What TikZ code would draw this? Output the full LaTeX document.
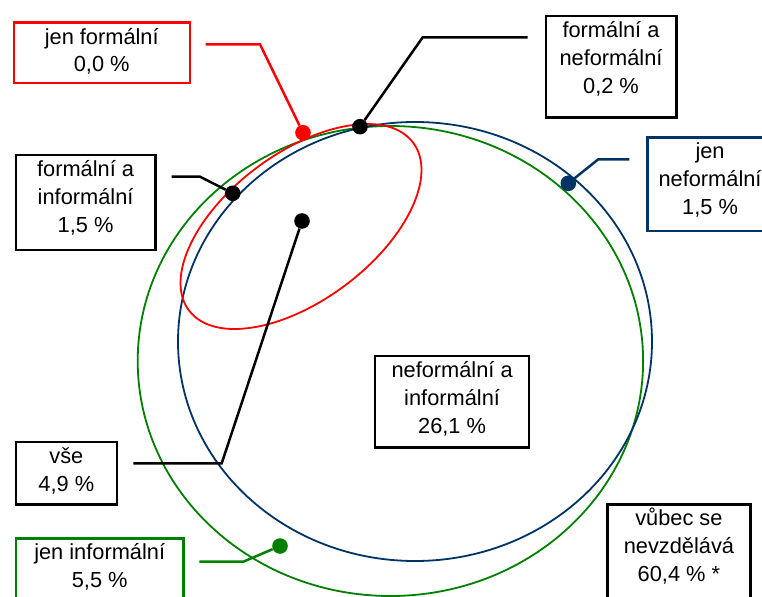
\documentclass[tikz,border=0pt]{standalone}
\usepackage{fontspec}
\setmainfont{Liberation Sans}
\definecolor{vred}{RGB}{255,0,0}
\definecolor{vblue}{RGB}{0,51,102}
\definecolor{vgreen}{RGB}{0,128,0}
\newcommand{\boxtxt}[3]{\begin{minipage}[t][#2][t]{#1}\centering\fontsize{21.8bp}{27.9bp}\selectfont\rule{0pt}{21.3bp}#3\end{minipage}}
\tikzset{
  lbox/.style={draw, line width=2.5bp, inner sep=0pt, anchor=north west, fill=white},
  ell/.style={line width=1.8bp},
  lead/.style={line width=2.5bp},
  vdot/.style={circle, fill, inner sep=0pt, minimum size=15.6bp}
}
\begin{document}
\begin{tikzpicture}[x=1bp, y=-1bp]
\useasboundingbox (0,0) rectangle (762,597);
\clip (0,0) rectangle (762,597);
\fill[white] (0,0) rectangle (762,597);

% sets
\draw[ell, vgreen] (390.4,361) ellipse [x radius=252.7, y radius=235];
\draw[ell, vblue] (415,341.5) ellipse [x radius=237, y radius=219.5];
\draw[ell, vred, rotate around={36.8:(301,226.5)}] (301,226.5) ellipse [x radius=140, y radius=73.6];

% boxes
\node[lbox, draw=vred] (bJF) at (12.5,21.5) {\boxtxt{176bp}{60.5bp}{jen formální\\0,0 \%}};
\node[lbox] (bFN) at (544.5,14.7) {\boxtxt{130.5bp}{101.5bp}{formální a\\neformální\\0,2 \%}};
\node[lbox, draw=vblue] (bJN) at (646.3,136.2) {\boxtxt{125bp}{93.3bp}{jen\\neformální\\1,5 \%}};
\node[lbox] (bFI) at (14.7,154) {\boxtxt{139.3bp}{94.7bp}{formální a\\informální\\1,5 \%}};
\node[lbox] (bNI) at (373.9,354.7) {\boxtxt{153.9bp}{91.6bp}{neformální a\\informální\\26,1 \%}};
\node[lbox] (bV) at (14.7,440.7) {\boxtxt{100.8bp}{62.6bp}{vše\\4,9 \%}};
\node[lbox, draw=vgreen] (bJI) at (14.7,537.3) {\boxtxt{167.5bp}{70bp}{jen informální\\5,5 \%}};
\node[lbox] (bN) at (606.3,503) {\boxtxt{142.7bp}{110bp}{vůbec se\\nevzdělává\\60,4 \% *}};

% dots
\node[vdot, vred] (dJF) at (303,132.7) {};
\node[vdot, black] (dFN) at (360,126.7) {};
\node[vdot, vblue] (dJN) at (568.3,183.3) {};
\node[vdot, black] (dFI) at (232.7,193.3) {};
\node[vdot, black] (dV) at (302,221) {};
\node[vdot, vgreen] (dJI) at (280,546) {};

% leader corners and free ends
\coordinate (cJF) at (260,44.3);   \coordinate (eJF) at (205.7,44.3);
\coordinate (cFN) at (422.7,37.3); \coordinate (eFN) at (527.7,37.3);
\coordinate (cJN) at (598.3,159.3); \coordinate (eJN) at (629.3,159.3);
\coordinate (cFI) at (200,176.7);  \coordinate (eFI) at (171.7,176.7);
\coordinate (cV) at (221.7,463.3); \coordinate (eV) at (133.3,463.3);
\coordinate (cJI) at (243.3,561.7); \coordinate (eJI) at (199.3,561.7);

\draw[lead, vred] (dJF) -- (cJF) -- (eJF);
\draw[lead, black] (dFN) -- (cFN) -- (eFN);
\draw[lead, vblue] (dJN) -- (cJN) -- (eJN);
\draw[lead, black] (dFI) -- (cFI) -- (eFI);
\draw[lead, black] (dV) -- (cV) -- (eV);
\draw[lead, vgreen] (dJI) -- (cJI) -- (eJI);
\end{tikzpicture}
\end{document}
